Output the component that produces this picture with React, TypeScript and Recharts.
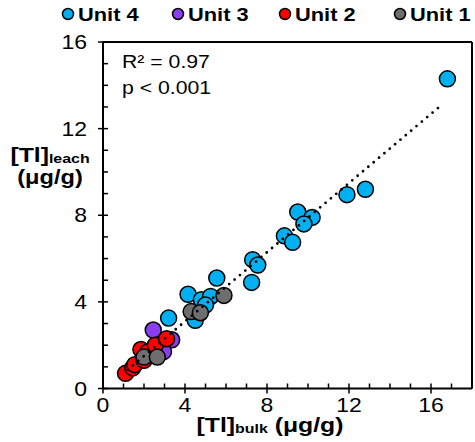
import { ScatterChart, Scatter, XAxis, YAxis, ReferenceLine } from "recharts";

// [Tl]bulk vs [Tl]leach (µg/g)
const unit4Bulk = [16.8, 12.8, 11.9, 9.5, 10.2, 9.8, 8.85, 9.25, 7.3, 7.55, 7.25, 5.55, 4.15, 4.8, 5.25, 5.0, 4.5, 3.2];
const unit4Leach = [14.3, 9.2, 8.95, 8.15, 7.9, 7.6, 7.05, 6.75, 5.95, 5.7, 4.9, 5.1, 4.35, 4.1, 4.25, 3.85, 3.15, 3.25];

const unit3Bulk = [2.45, 3.35, 2.95];
const unit3Leach = [2.7, 2.25, 1.7];

const unit2Bulk = [1.1, 1.45, 1.55, 1.85, 2.2, 2.55, 3.1, 2.0];
const unit2Leach = [0.7, 0.95, 1.1, 1.8, 1.7, 2.0, 2.3, 1.3];

const unit1Bulk = [2.0, 2.65, 4.3, 4.75, 5.9];
const unit1Leach = [1.45, 1.45, 3.55, 3.5, 4.3];

// ends of the dotted fit line
const fitBulk = [1.2, 16.5];
const fitLeach = [0.86, 13.08];

const xTicks = [0, 1, 2, 3, 4, 5, 6, 7, 8, 9, 10, 11, 12, 13, 14, 15, 16, 17, 18];
const yTicks = [0, 1, 2, 3, 4, 5, 6, 7, 8, 9, 10, 11, 12, 13, 14, 15, 16];
const majorEvery = 4;

const units = [
  { name: "Unit 4", color: "#00b0f0", bulk: unit4Bulk, leach: unit4Leach },
  { name: "Unit 3", color: "#8b3ef0", bulk: unit3Bulk, leach: unit3Leach },
  { name: "Unit 2", color: "#ff0000", bulk: unit2Bulk, leach: unit2Leach },
  { name: "Unit 1", color: "#6e6e6e", bulk: unit1Bulk, leach: unit1Leach },
];

const toPoints = (xs: number[], ys: number[]) => xs.map((x, i) => ({ x, y: ys[i] }));

const FONT = "'Liberation Sans', Arial, sans-serif";
const STRETCH = 1.18;

// the original figure's lettering is a little wider than the font, so stretch it
function T({ x, y, anchor = "start", size, bold, children }: any) {
  return (
    <text
      transform={`translate(${x} ${y}) scale(${STRETCH} 1)`}
      textAnchor={anchor}
      fontSize={size}
      fontWeight={bold ? "bold" : "normal"}
      fontFamily={FONT}
      fill="#000"
    >
      {children}
    </text>
  );
}

function XTick(props: any) {
  const { x, y, payload } = props;
  const major = payload.value % majorEvery === 0;
  return (
    <g>
      <line x1={x} x2={x} y1={y - 5} y2={major ? y + 5 : y} stroke="#000" strokeWidth={1.5} />
      {major && (
        <T x={x} y={y + 23} anchor="middle" size={19.5}>
          {payload.value}
        </T>
      )}
    </g>
  );
}

function YTick(props: any) {
  const { x, y, payload } = props;
  const major = payload.value % majorEvery === 0;
  return (
    <g>
      <line x1={major ? x - 5 : x} x2={x + 5} y1={y} y2={y} stroke="#000" strokeWidth={1.5} />
      {major && (
        <T x={x - 16} y={y + 7} anchor="end" size={19.5}>
          {payload.value}
        </T>
      )}
    </g>
  );
}

const dot = (color: string) => (p: any) => (
  <circle cx={p.cx} cy={p.cy} r={8} fill={color} stroke="#000" strokeWidth={1.5} />
);

export default function App() {
  return (
    <div style={{ position: "absolute", left: 0, top: 0, width: 475, height: 442, background: "#fff" }}>
      <ScatterChart width={475} height={442} margin={{ top: 42, right: 3, bottom: 0, left: 0 }}>
        <XAxis
          type="number"
          dataKey="x"
          domain={[0, 18]}
          ticks={xTicks}
          interval={0}
          tick={<XTick />}
          tickLine={false}
          tickSize={0}
          tickMargin={0}
          height={53.5}
          axisLine={{ stroke: "#000", strokeWidth: 2 }}
          allowDataOverflow
        />
        <YAxis
          type="number"
          dataKey="y"
          domain={[0, 16]}
          ticks={yTicks}
          interval={0}
          tick={<YTick />}
          tickLine={false}
          tickSize={0}
          tickMargin={0}
          width={103}
          axisLine={{ stroke: "#000", strokeWidth: 2 }}
          allowDataOverflow
        />
        <ReferenceLine y={16} stroke="#000" strokeWidth={2} />
        <ReferenceLine x={18} stroke="#000" strokeWidth={2} />
        {units.map((u) => (
          <Scatter
            key={u.name}
            name={u.name}
            data={toPoints(u.bulk, u.leach)}
            shape={dot(u.color)}
            isAnimationActive={false}
          />
        ))}
        <Scatter
          data={toPoints(fitBulk, fitLeach)}
          line={{ stroke: "#000", strokeWidth: 2.8, strokeDasharray: "0 7", strokeLinecap: "round" }}
          shape={() => <g />}
          isAnimationActive={false}
        />
      </ScatterChart>
      <svg
        width={475}
        height={442}
        style={{ position: "absolute", left: 0, top: 0, pointerEvents: "none" }}
      >
        {units.map((u, i) => {
          const cx = [68, 178, 285, 400][i];
          return (
            <g key={u.name}>
              <circle cx={cx} cy={14} r={5.5} fill={u.color} stroke="#000" strokeWidth={1.5} />
              <T x={cx + 10} y={20.5} size={18.5} bold>
                {u.name}
              </T>
            </g>
          );
        })}
        <T x={122} y={68} size={18}>R² = 0.97</T>
        <T x={122} y={94} size={18}>p &lt; 0.001</T>
        <T x={50} y={162} anchor="middle" bold>
          <tspan fontSize={21}>[Tl]</tspan>
          <tspan fontSize={13.5} dy={1}>leach</tspan>
        </T>
        <T x={50} y={184} anchor="middle" size={20} bold>
          (μg/g)
        </T>
        <T x={270} y={432} anchor="middle" bold>
          <tspan fontSize={21}>[Tl]</tspan>
          <tspan fontSize={13.5} dy={1}>bulk</tspan>
          <tspan fontSize={21} dy={-1}> (μg/g)</tspan>
        </T>
      </svg>
    </div>
  );
}
